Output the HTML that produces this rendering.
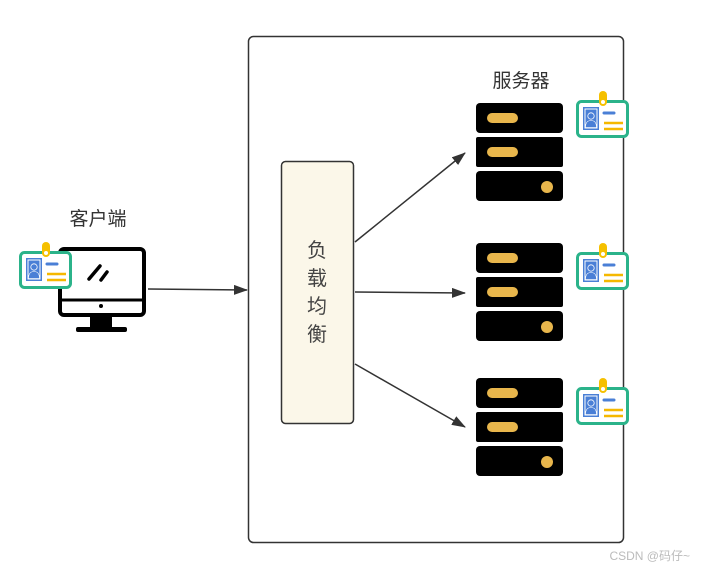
<!DOCTYPE html>
<html><head><meta charset="utf-8"><style>
html,body{margin:0;padding:0;background:#fff;}
svg{display:block;font-family:"Liberation Sans","Noto Sans CJK SC",sans-serif;}
</style></head><body>
<svg width="701" height="569" viewBox="0 0 701 569" xmlns="http://www.w3.org/2000/svg">
<defs>
<marker id="ah" markerWidth="14" markerHeight="10" refX="13" refY="5" orient="auto" markerUnits="userSpaceOnUse">
<path d="M0,0 L14,5 L0,10 Z" fill="#333"/>
</marker>
<g id="badge">
<rect x="1.5" y="1.5" width="50" height="35" rx="4" fill="#fff" stroke="#2bb38a" stroke-width="3"/>
<rect x="7" y="7" width="16" height="23" fill="#4a7fd6"/>
<rect x="8.5" y="8.5" width="13" height="20" fill="#fff"/>
<rect x="9.5" y="9.5" width="11" height="18" fill="#4a7fd6"/>
<circle cx="15" cy="16" r="3.2" fill="#4a7fd6" stroke="#fff" stroke-width="0.8"/>
<path d="M9.5,27.5 Q9.5,20.5 15,20.5 Q20.5,20.5 20.5,27.5 Z" fill="#4a7fd6" stroke="#fff" stroke-width="0.6"/>
<line x1="28" y1="13" x2="38" y2="13" stroke="#4a7fd6" stroke-width="3" stroke-linecap="round"/>
<line x1="28" y1="23" x2="47" y2="23" stroke="#f5b800" stroke-width="2.5"/>
<line x1="28" y1="29" x2="47" y2="29" stroke="#f5b800" stroke-width="2.5"/>
<rect x="23" y="-9" width="8" height="15" rx="4" fill="#f5c000"/>
<circle cx="27" cy="2" r="2" fill="#fff"/>
</g>
<g id="server">
<rect x="0" y="0" width="87" height="30" rx="4" fill="#000"/>
<rect x="0" y="34" width="87" height="30" rx="2" fill="#000"/>
<rect x="0" y="68" width="87" height="30" rx="4" fill="#000"/>
<rect x="11" y="10" width="31" height="10" rx="5" fill="#e8b64c"/>
<rect x="11" y="44" width="31" height="10" rx="5" fill="#e8b64c"/>
<circle cx="71" cy="84" r="6" fill="#e8b64c"/>
</g>
</defs>

<rect x="248.5" y="36.5" width="375" height="506" rx="5" fill="#fff" stroke="#333" stroke-width="1.5"/>

<text x="98" y="225" font-size="19" fill="#333" text-anchor="middle">客户端</text>
<text x="521" y="87" font-size="19" fill="#333" text-anchor="middle">服务器</text>

<rect x="60" y="249" width="84" height="66" rx="4" fill="#fff" stroke="#000" stroke-width="4"/>
<line x1="60" y1="300" x2="144" y2="300" stroke="#000" stroke-width="3"/>
<circle cx="101" cy="306" r="2" fill="#000"/>
<rect x="90" y="315" width="22" height="13" fill="#000"/>
<rect x="76" y="327" width="51" height="5" rx="2" fill="#000"/>
<line x1="89" y1="279" x2="100" y2="266" stroke="#000" stroke-width="3.5" stroke-linecap="round"/>
<line x1="101" y1="280" x2="107" y2="272" stroke="#000" stroke-width="3.5" stroke-linecap="round"/>
<use href="#badge" x="19" y="251"/>

<line x1="148" y1="289" x2="247" y2="290" stroke="#333" stroke-width="1.5" marker-end="url(#ah)"/>

<rect x="281.5" y="161.5" width="72" height="262" rx="4" fill="#fbf7e9" stroke="#333" stroke-width="1.5"/>
<g font-size="20" fill="#444" text-anchor="middle">
<text x="317" y="257">负</text>
<text x="317" y="285">载</text>
<text x="317" y="313">均</text>
<text x="317" y="341">衡</text>
</g>

<line x1="355" y1="242" x2="465" y2="153" stroke="#333" stroke-width="1.5" marker-end="url(#ah)"/>
<line x1="355" y1="292" x2="465" y2="293" stroke="#333" stroke-width="1.5" marker-end="url(#ah)"/>
<line x1="355" y1="364" x2="465" y2="427" stroke="#333" stroke-width="1.5" marker-end="url(#ah)"/>

<use href="#server" x="476" y="103"/>
<use href="#server" x="476" y="243"/>
<use href="#server" x="476" y="378"/>
<use href="#badge" x="576" y="100"/>
<use href="#badge" x="576" y="252"/>
<use href="#badge" x="576" y="387"/>

<text x="690" y="560" font-size="12" fill="#bbb" text-anchor="end">CSDN @码仔~</text>
</svg>
</body></html>
